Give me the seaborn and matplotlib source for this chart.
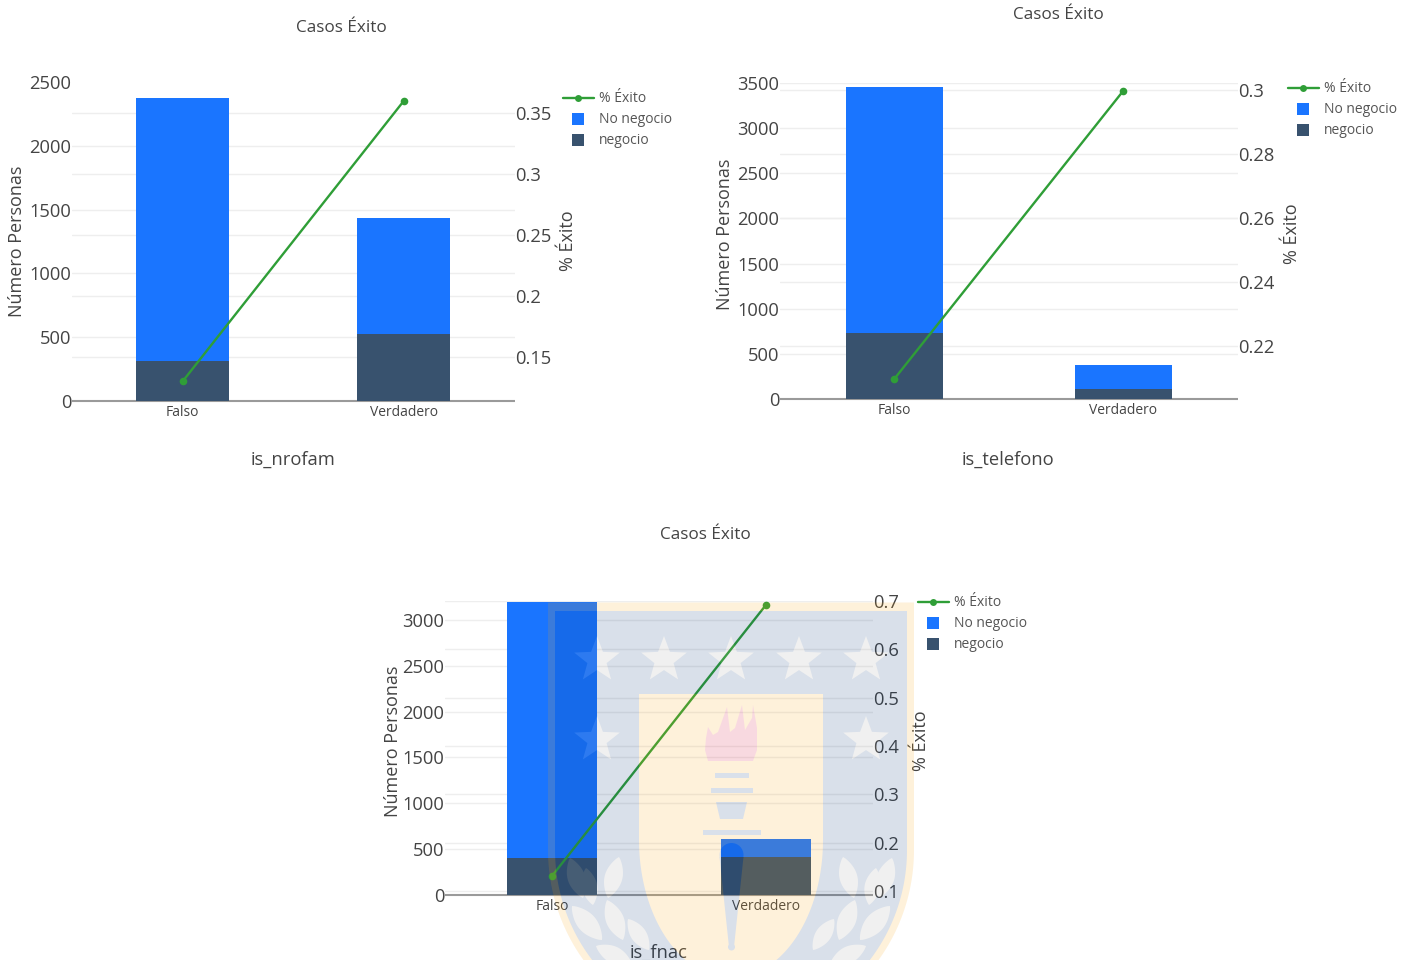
import numpy as np
import matplotlib
matplotlib.use("Agg")
import matplotlib.pyplot as plt
from matplotlib.backends.backend_agg import FigureCanvasAgg
from matplotlib.figure import Figure
from matplotlib.lines import Line2D
from matplotlib.patches import Circle, Polygon
import seaborn as sns

sns.set_theme(style="white")
plt.rcParams["font.family"] = ["Open Sans", "DejaVu Sans"]

W, H = 1414, 960

CATEGORIES = ["Falso", "Verdadero"]
TITLE = "Casos Éxito"
LEFT_LABEL = "Número Personas"
RIGHT_LABEL = "% Éxito"
LINE_NAME = "% Éxito"
TOP_NAME = "No negocio"
BOTTOM_NAME = "negocio"

# is_nrofam
nrofam_no_negocio = [2062, 909]
nrofam_negocio = [313, 525]
nrofam_exito = [0.130, 0.360]
nrofam_left_ticks = [0, 500, 1000, 1500, 2000, 2500]
nrofam_right_ticks = [0.15, 0.2, 0.25, 0.3, 0.35]
nrofam_right_labels = ["0.15", "0.2", "0.25", "0.3", "0.35"]

# is_telefono
telefono_no_negocio = [2724, 266]
telefono_negocio = [731, 110]
telefono_exito = [0.2097, 0.2997]
telefono_left_ticks = [0, 500, 1000, 1500, 2000, 2500, 3000, 3500]
telefono_right_ticks = [0.22, 0.24, 0.26, 0.28, 0.3]
telefono_right_labels = ["0.22", "0.24", "0.26", "0.28", "0.3"]

# is_fnac
fnac_no_negocio = [2797, 200]
fnac_negocio = [403, 414]
fnac_exito = [0.131, 0.692]
fnac_left_ticks = [0, 500, 1000, 1500, 2000, 2500, 3000]
fnac_right_ticks = [0.1, 0.2, 0.3, 0.4, 0.5, 0.6, 0.7]
fnac_right_labels = ["0.1", "0.2", "0.3", "0.4", "0.5", "0.6", "0.7"]

BLUE = "#1a75ff"
NAVY = "#38526e"
GREEN = "#2f9e37"
TEXT = "#444444"
GRID = "#eeeeee"
AXIS_LINE = "#9a9a9a"

fig = plt.figure(figsize=(W / 100, H / 100), dpi=100, facecolor="white")


def panel(box, no_negocio, negocio, exito, left_ticks, left_lim, right_ticks,
          right_labels, right_lim, xlabel, hide_top_grid, title_xy, xlabel_xy,
          left_xy, right_xy, legend_xy, width):
    x0, y0, x1, y1 = box
    rect = [x0 / W, 1 - y1 / H, (x1 - x0) / W, (y1 - y0) / H]

    def frac(px, py):
        return (px - x0) / (x1 - x0), (y1 - py) / (y1 - y0)

    ax = fig.add_axes(rect, zorder=2)
    ax.patch.set_visible(False)
    totals = np.add(no_negocio, negocio)
    sns.barplot(x=CATEGORIES, y=totals, color=BLUE, saturation=1, width=width,
                errorbar=None, linewidth=0, ax=ax, zorder=2)
    sns.barplot(x=CATEGORIES, y=negocio, color=NAVY, saturation=1, width=width,
                errorbar=None, linewidth=0, ax=ax, zorder=3)
    ax.set_xlim(-0.5, 1.5)
    ax.set_ylim(*left_lim)
    ax.set_yticks(left_ticks)
    ax.grid(axis="y", color=GRID, lw=1)
    ax.set_axisbelow(True)
    gridlines = ax.yaxis.get_gridlines()
    gridlines[0].set_visible(False)
    if hide_top_grid:
        gridlines[-1].set_visible(False)
    ax.tick_params(axis="y", labelsize=13.2, labelcolor=TEXT, length=0, pad=0.5)
    ax.tick_params(axis="x", labelsize=10, labelcolor=TEXT, length=0, pad=3)
    for side in ("top", "left", "right"):
        ax.spines[side].set_visible(False)
    ax.spines["bottom"].set_color(AXIS_LINE)
    ax.spines["bottom"].set_linewidth(1.5)
    ax.spines["bottom"].set_capstyle("butt")
    ax.set_xlabel("")
    ax.set_ylabel(LEFT_LABEL, fontsize=13, color=TEXT, va="center", ha="center")
    ax.yaxis.set_label_coords(*frac(*left_xy))
    ax.text(*frac(*xlabel_xy), xlabel, transform=ax.transAxes, ha="center",
            va="center", fontsize=13.2, color=TEXT)
    ax.text(*frac(*title_xy), TITLE, transform=ax.transAxes, ha="center",
            va="center", fontsize=12.3, color=TEXT)

    # Right-hand grid sits behind the bars, its line and ticks in front of them.
    grid_ax = ax.twinx()
    grid_ax.set_zorder(1)
    grid_ax.patch.set_visible(False)
    grid_ax.set_ylim(*right_lim)
    grid_ax.set_yticks(right_ticks)
    grid_ax.set_yticklabels([])
    grid_ax.tick_params(axis="y", length=0)
    grid_ax.grid(axis="y", color=GRID, lw=1)
    for spine in grid_ax.spines.values():
        spine.set_visible(False)

    line_ax = ax.twinx()
    line_ax.set_zorder(3)
    line_ax.patch.set_visible(False)
    sns.lineplot(x=CATEGORIES, y=exito, color=GREEN, marker="o", markersize=5.5,
                 markeredgewidth=0, linewidth=1.7, sort=False, errorbar=None,
                 legend=False, ax=line_ax)
    line_ax.set_ylim(*right_lim)
    line_ax.set_yticks(right_ticks, right_labels)
    line_ax.tick_params(axis="y", labelsize=13.2, labelcolor=TEXT, length=0, pad=0.3)
    line_ax.grid(False)
    for spine in line_ax.spines.values():
        spine.set_visible(False)
    line_ax.set_ylabel(RIGHT_LABEL, fontsize=13, color=TEXT, rotation=90,
                       va="center", ha="center")
    line_ax.yaxis.set_label_coords(*frac(*right_xy))

    handles = [
        Line2D([], [], color=GREEN, marker="o", markersize=5, markeredgewidth=0, lw=1.7),
        Line2D([], [], color=BLUE, marker="s", markersize=9, markeredgewidth=0, ls="none"),
        Line2D([], [], color=NAVY, marker="s", markersize=9, markeredgewidth=0, ls="none"),
    ]
    fig.legend(handles, [LINE_NAME, TOP_NAME, BOTTOM_NAME], loc="upper left",
               bbox_to_anchor=(legend_xy[0] / W, 1 - legend_xy[1] / H),
               frameon=False, borderpad=0, borderaxespad=0, fontsize=10,
               handlelength=2.23, handletextpad=0.36, labelspacing=0.43,
               labelcolor="#555555")


panel((72, 82, 514.5, 401), nrofam_no_negocio, nrofam_negocio, nrofam_exito,
      nrofam_left_ticks, (0, 2500), nrofam_right_ticks, nrofam_right_labels,
      (0.1139, 0.3754), "is_nrofam", True,
      (341, 28), (293, 460), (17, 241), (568, 241), (563, 91.5), 0.42)
panel((780, 83, 1237.5, 399), telefono_no_negocio, telefono_negocio, telefono_exito,
      telefono_left_ticks, (0, 3500), telefono_right_ticks, telefono_right_labels,
      (0.2034, 0.3022), "is_telefono", False,
      (1058, 15), (1008, 460), (725, 234), (1292, 234), (1288, 81.5), 0.424)
panel((445, 601, 873, 895), fnac_no_negocio, fnac_negocio, fnac_exito,
      fnac_left_ticks, (0, 3206), fnac_right_ticks, fnac_right_labels,
      (0.0917, 0.70), "is_fnac", False,
      (705, 535), (659, 953), (393, 741), (921, 741), (918, 595.5), 0.42)


# University crest laid over the lower chart as a translucent watermark.
def shield(half_width, top, straight_to, depth, cx=731):
    t = np.linspace(0, np.pi / 2, 60)
    right = np.column_stack([cx + half_width * np.cos(t), straight_to + depth * np.sin(t)])
    left = np.column_stack([cx - half_width * np.sin(t), straight_to + depth * np.cos(t)])
    return np.vstack([[[cx + half_width, top]], right, left, [[cx - half_width, top]]])


def star(cx, cy, radius):
    angles = -np.pi / 2 + np.arange(10) * np.pi / 5
    radii = np.where(np.arange(10) % 2 == 0, radius, radius * 0.42)
    return np.column_stack([cx + radii * np.cos(angles), cy + radii * np.sin(angles)])


def leaf(a, b, bulge=0.3):
    a, b = np.asarray(a, float), np.asarray(b, float)
    d = b - a
    n = np.array([-d[1], d[0]])
    s = np.linspace(0, 1, 24)[:, None]
    shape = np.sin(np.pi * s) ** 0.8
    side1 = a + s * d + bulge * shape * n / 2
    side2 = a + s * d - bulge * shape * n / 2
    return np.vstack([side1, side2[::-1]])


CREAM = (0.98, 0.63, 0.04)
FIELD = (0.0, 0.19, 0.45)
PALE = (0.61, 0.61, 0.61)
FLAME = (0.84, 0.02, 0.19)

crest_fig = Figure(figsize=(W / 100, H / 100), dpi=100, facecolor="none")
crest_canvas = FigureCanvasAgg(crest_fig)
crest = crest_fig.add_axes([0, 0, 1, 1])
crest.set_xlim(0, W)
crest.set_ylim(H, 0)
crest.axis("off")

crest.add_patch(Polygon(shield(183, 602.5, 850, 186), color=CREAM, lw=0))
crest.add_patch(Polygon(shield(176, 611, 850, 179), color=FIELD, lw=0))
crest.add_patch(Polygon(shield(92, 694, 840, 138), color=CREAM, lw=0))

for sx in (597, 664, 731, 799, 866):
    crest.add_patch(Polygon(star(sx, 660, 24), color=PALE, lw=0))
for sx in (597, 866):
    crest.add_patch(Polygon(star(sx, 740, 24), color=PALE, lw=0))

left_leaves = [((570, 858), (583, 898)), ((619, 857), (608, 898)), ((586, 868), (593, 905)),
               ((572, 906), (602, 940)), ((607, 900), (623, 940)), ((628, 919), (649, 950)),
               ((596, 946), (632, 964))]
for a, b in left_leaves:
    crest.add_patch(Polygon(leaf(a, b, 0.42), color=PALE, lw=0))
    crest.add_patch(Polygon(leaf((1462 - a[0], a[1]), (1462 - b[0], b[1]), 0.42), color=PALE, lw=0))

flame = [(708, 761), (705, 750), (706, 738), (708, 727), (713, 735), (718, 732), (727, 707),
         (730, 732), (735, 728), (742, 705), (745, 730), (752, 718), (753, 705), (757, 728),
         (757, 750), (753, 761)]
crest.add_patch(Polygon(flame, color=FLAME, lw=0))
crest.add_patch(Polygon([(715, 773), (749, 773), (749, 778), (715, 778)], color=FIELD, lw=0))
crest.add_patch(Polygon([(711, 788), (753, 788), (753, 793), (711, 793)], color=FIELD, lw=0))
crest.add_patch(Polygon([(716, 802), (747, 802), (743, 819), (720, 819)], color=FIELD, lw=0))
crest.add_patch(Polygon([(703, 830), (761, 830), (761, 835), (703, 835)], color=FIELD, lw=0))
crest.add_patch(Polygon([(719.5, 857), (743.5, 857), (734, 947), (729, 947)], color=FIELD, lw=0))
crest.add_patch(Circle((731.5, 855), 12, color=FIELD, lw=0))
crest.add_patch(Circle((731.5, 947), 3.5, color=FIELD, lw=0))

crest_canvas.draw()
crest_rgba = np.asarray(crest_canvas.buffer_rgba()).astype(float) / 255
crest_rgba[..., 3] *= 0.15

overlay = fig.add_axes([0, 0, 1, 1], zorder=10)
overlay.patch.set_visible(False)
overlay.axis("off")
overlay.imshow(crest_rgba, extent=(0, W, H, 0), aspect="auto", interpolation="nearest")

fig.savefig("out.png", dpi=100, facecolor="white")
